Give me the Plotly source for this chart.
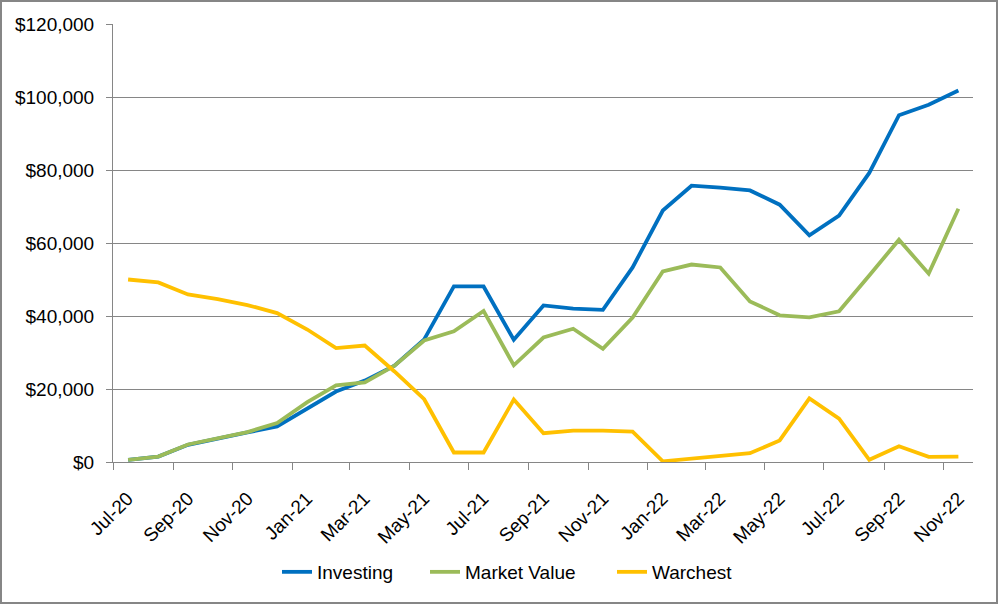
import plotly.graph_objects as go

months = ["2020-07-01","2020-08-01","2020-09-01","2020-10-01","2020-11-01","2020-12-01",
          "2021-01-01","2021-02-01","2021-03-01","2021-04-01","2021-05-01","2021-06-01",
          "2021-07-01","2021-08-01","2021-09-01","2021-10-01","2021-11-01","2021-12-01",
          "2022-01-01","2022-02-01","2022-03-01","2022-04-01","2022-05-01","2022-06-01",
          "2022-07-01","2022-08-01","2022-09-01","2022-10-01","2022-11-01"]

investing = [600, 1500, 4700, 6500, 8100, 9750, 14500, 19300, 22300, 26400, 33600, 48100,
             48100, 33500, 42900, 42000, 41700, 53300, 68900, 75700, 75200, 74400, 70500,
             62100, 67500, 79200, 95000, 97900, 101800]
market_value = [600, 1500, 4800, 6600, 8200, 10700, 16400, 21000, 21800, 26400, 33300, 35800,
                41400, 26500, 34100, 36500, 31000, 39600, 52200, 54100, 53300, 44000, 40200,
                39600, 41300, 51100, 60900, 51600, 69400]
warchest = [50000, 49200, 45900, 44600, 43000, 40800, 36300, 31200, 31900, 24800, 17200, 2600,
            2600, 17100, 7900, 8600, 8600, 8300, 200, 900, 1500, 2400, 5900, 17400, 11900,
            600, 4300, 1400, 1500]

series = [("Investing", investing, "#0070C0", "legend", 277),
          ("Market Value", market_value, "#9BBB59", "legend2", 425),
          ("Warchest", warchest, "#FFC000", "legend3", 612)]

L, R, T, B = 113, 25, 24, 142
W, H = 998, 604
PW, PH = W - L - R, H - T - B

fig = go.Figure()
legends = {}
for name, vals, color, leg, px in series:
    fig.add_trace(go.Scatter(x=months, y=vals, name=name, mode="lines",
                             xperiod="M1", xperiodalignment="middle", legend=leg,
                             line=dict(color=color, width=3.8)))
    legends[leg] = dict(orientation="h", x=(px - L) / PW, xanchor="left",
                        y=(H - B - 572) / PH, yanchor="middle",
                        font=dict(size=19), itemwidth=30, bgcolor="rgba(0,0,0,0)")

grid = "#868686"
fig.update_layout(
    width=W, height=H,
    margin=dict(l=L, r=R, t=T, b=B),
    paper_bgcolor="white", plot_bgcolor="white",
    font=dict(family="Liberation Sans, Arial, sans-serif", size=19, color="black"),
    showlegend=True,
    **legends,
    xaxis=dict(type="date", range=["2020-07-01", "2022-12-01"],
               tick0="2020-07-16", dtick="M2", tickformat="%b-%y", tickangle=-45,
               showgrid=False, showline=True, linecolor=grid, linewidth=1,
               ticks="", ticklabelstandoff=17, zeroline=False, automargin=False,
               minor=dict(tick0="2020-07-01", dtick="M2", ticks="outside", ticklen=7,
                          tickcolor=grid, showgrid=False)),
    yaxis=dict(range=[0, 120000], dtick=20000, tickprefix="$", tickformat=",",
               showgrid=True, gridcolor=grid, gridwidth=1,
               showline=True, linecolor=grid, linewidth=1,
               ticks="outside", ticklen=6, tickcolor=grid, zeroline=False,
               ticklabelstandoff=8, automargin=False),
    shapes=[dict(type="rect", xref="paper", yref="paper",
                 x0=-(L - 1) / PW, x1=(W - 1 - L) / PW,
                 y0=-(B - 1) / PH, y1=(PH + T - 1) / PH,
                 line=dict(color=grid, width=2), fillcolor="rgba(0,0,0,0)", layer="below")],
)

fig.write_html("out.html", config={"displayModeBar": False},
               post_script="document.body.style.margin='0';document.body.style.overflow='hidden';")
